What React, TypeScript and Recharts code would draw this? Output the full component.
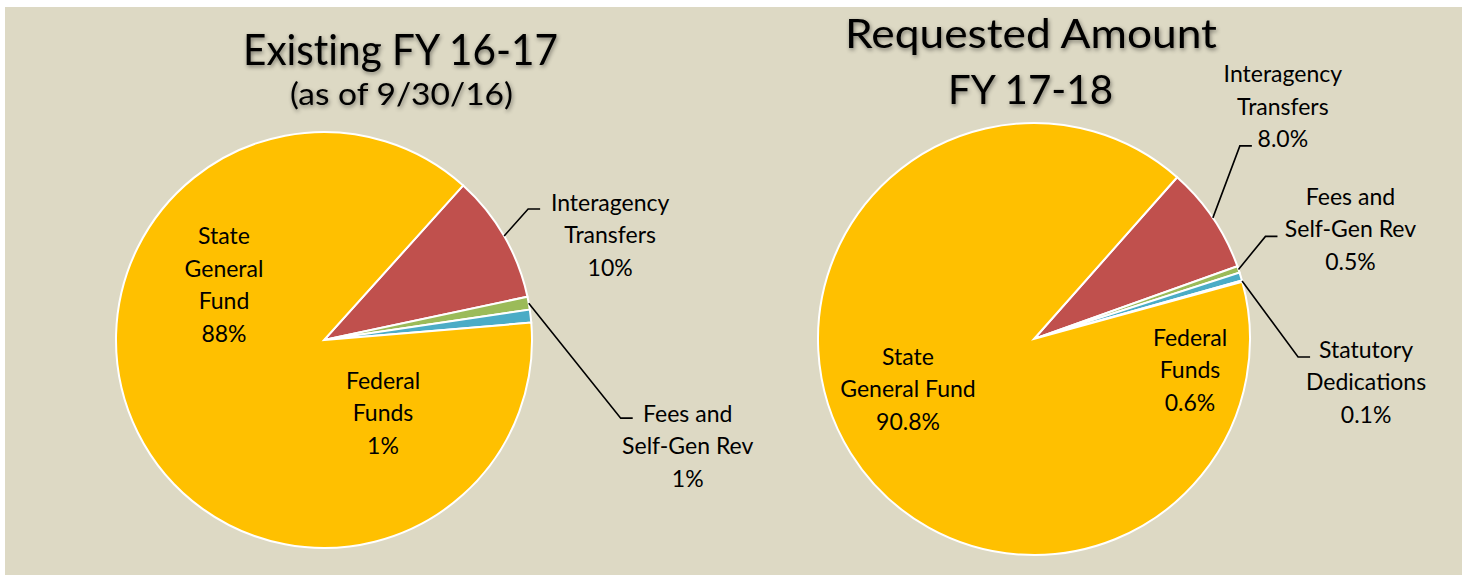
import React from 'react';
import { PieChart, Pie, Cell } from 'recharts';

// values (percent of total)
const existingNames = ['Interagency Transfers', 'Fees and Self-Gen Rev', 'Federal Funds', 'State General Fund'];
const existingValues = [10, 1, 1, 88];

const requestedNames = ['Interagency Transfers', 'Fees and Self-Gen Rev', 'Federal Funds', 'Statutory Dedications', 'State General Fund'];
const requestedValues = [8.0, 0.5, 0.6, 0.1, 90.8];

const colors: Record<string, string> = {
  'Interagency Transfers': '#C0504D',
  'Fees and Self-Gen Rev': '#9BBB59',
  'Federal Funds': '#4BACC6',
  'Statutory Dedications': '#8064A2',
  'State General Fund': '#FFC000',
};

const existingData = existingNames.map((name, i) => ({ name, value: existingValues[i] }));
const requestedData = requestedNames.map((name, i) => ({ name, value: requestedValues[i] }));

// label placement: inside = offset of text block from pie centre,
// otherwise elbow = leader bend from slice edge, text = block centre from leader end
type LabelSpec = { lines: string[]; inside?: [number, number]; elbow?: [number, number]; text?: [number, number] };

const existingLabels: Record<string, LabelSpec> = {
  'State General Fund': { lines: ['State', 'General', 'Fund'], inside: [-100, -56] },
  'Federal Funds': { lines: ['Federal', 'Funds'], inside: [59, 72] },
  'Interagency Transfers': { lines: ['Interagency', 'Transfers'], elbow: [24, -27], text: [70, 25] },
  'Fees and Self-Gen Rev': { lines: ['Fees and', 'Self-Gen Rev'], elbow: [92, 115], text: [55, 27] },
};

const requestedLabels: Record<string, LabelSpec> = {
  'State General Fund': { lines: ['State', 'General Fund'], inside: [-126, 49] },
  'Federal Funds': { lines: ['Federal', 'Funds'], inside: [156, 30] },
  'Interagency Transfers': { lines: ['Interagency', 'Transfers'], elbow: [27, -72], text: [31, -40] },
  'Fees and Self-Gen Rev': { lines: ['Fees and', 'Self-Gen Rev'], elbow: [27, -33], text: [73, -8] },
  'Statutory Dedications': { lines: ['Statutory', 'Dedications'], elbow: [56, 76], text: [56, 24] },
};

const RAD = Math.PI / 180;
const FONT = 'Lato, "Open Sans", sans-serif';

function makeLabel(layout: Record<string, LabelSpec>, digits: number) {
  return (props: any) => {
    const { cx, cy, midAngle, outerRadius, percent } = props;
    const name = props.name ?? props.payload?.name;
    const spec = layout[name];
    if (!spec) return null;
    const lines = [...spec.lines, (percent * 100).toFixed(digits) + '%'];
    let tx = 0;
    let ty = 0;
    let leader = null;
    if (spec.inside) {
      tx = cx + spec.inside[0];
      ty = cy + spec.inside[1];
    } else {
      const ax = cx + outerRadius * Math.cos(-midAngle * RAD);
      const ay = cy + outerRadius * Math.sin(-midAngle * RAD);
      const ex = ax + spec.elbow![0];
      const ey = ay + spec.elbow![1];
      const hx = ex + 12;
      leader = (
        <polyline points={`${ax},${ay} ${ex},${ey} ${hx},${ey}`} fill="none" stroke="#000" strokeWidth={1.6} />
      );
      tx = hx + spec.text![0];
      ty = ey + spec.text![1];
    }
    const lh = 32.5;
    const top = ty - ((lines.length - 1) * lh) / 2;
    return (
      <g>
        {leader}
        <text textAnchor="middle" dominantBaseline="central" fontFamily={FONT} fontSize={23} fill="#000">
          {lines.map((l, i) => (
            <tspan key={i} x={tx} y={top + i * lh}>{l}</tspan>
          ))}
        </text>
      </g>
    );
  };
}

const titleStyle: React.CSSProperties = {
  filter: 'drop-shadow(1px 2px 2px rgba(0,0,0,0.45))',
  fontVariantLigatures: 'none',
};

export default function App() {
  return (
    <div style={{ position: 'relative', width: 1466, height: 575, background: '#fff', overflow: 'hidden' }}>
      <style>{`body{margin:0}`}</style>
      <div style={{ position: 'absolute', left: 5, top: 7, width: 1457, height: 568, background: '#DDD9C4' }}>
        <PieChart width={1457} height={568} margin={{ top: 0, right: 0, bottom: 0, left: 0 }}>
          <Pie
            data={existingData}
            dataKey="value"
            nameKey="name"
            cx={319}
            cy={333}
            outerRadius={208}
            startAngle={48}
            endAngle={-312}
            stroke="#fff"
            strokeWidth={2}
            label={makeLabel(existingLabels, 0)}
            labelLine={false}
            isAnimationActive={false}
          >
            {existingData.map((d) => (
              <Cell key={d.name} fill={colors[d.name]} />
            ))}
          </Pie>
          <Pie
            data={requestedData}
            dataKey="value"
            nameKey="name"
            cx={1029}
            cy={332}
            outerRadius={216}
            startAngle={48.5}
            endAngle={-311.5}
            stroke="#fff"
            strokeWidth={2}
            label={makeLabel(requestedLabels, 1)}
            labelLine={false}
            isAnimationActive={false}
          >
            {requestedData.map((d) => (
              <Cell key={d.name} fill={colors[d.name]} />
            ))}
          </Pie>
        </PieChart>
      </div>
      <svg width={1466} height={575} style={{ position: 'absolute', left: 0, top: 0, pointerEvents: 'none' }}>
        <g style={titleStyle} fontFamily={FONT} fill="#000" textAnchor="middle">
          <text x={400.5} y={65} fontSize={42} textLength={315} lengthAdjust="spacingAndGlyphs">Existing FY 16-17</text>
          <text x={401.5} y={105} fontSize={30} textLength={223} lengthAdjust="spacingAndGlyphs">(as of 9/30/16)</text>
          <text x={1031} y={48} fontSize={40} textLength={372} lengthAdjust="spacingAndGlyphs">Requested Amount</text>
          <text x={1030.5} y={104} fontSize={40} textLength={165} lengthAdjust="spacingAndGlyphs">FY 17-18</text>
        </g>
      </svg>
    </div>
  );
}
